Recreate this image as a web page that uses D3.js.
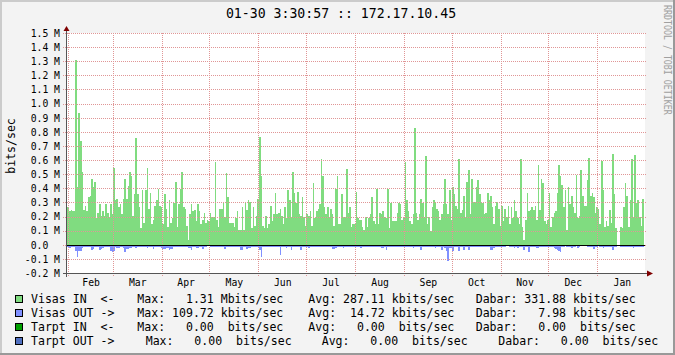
<!DOCTYPE html>
<html>
<head>
<meta charset="utf-8">
<script src="https://cdn.jsdelivr.net/npm/d3@7"></script>
<style>
  html, body { margin: 0; padding: 0; background: #f3f3f3; }
  svg { display: block; font-family: "DejaVu Sans Mono", monospace; }
  text { white-space: pre; }
</style>
</head>
<body>
<div id="chart"></div>
<script>
// one bar per day, first day = Jan 30
var firstDay = Date.UTC(2010, 0, 30);
var rangeStart = Date.UTC(2010, 0, 30, 3, 30, 57);
var rangeEnd = Date.UTC(2011, 0, 30, 3, 30, 57);

// Visas IN, Mbit/s
var visasIn = [
  0.25,0.27,0.24,0.25,0.24,0.24,1.31,0.41,0.94,0.74,
  0.52,0.25,0.28,0.24,0.34,0.35,0.47,0.41,0.45,0.19,
  0.23,0.29,0.21,0.24,0.21,0.29,0.23,0.20,0.29,0.22,
  0.55,0.32,0.33,0.27,0.29,0.22,0.33,0.47,0.33,0.42,
  0.52,0.49,0.21,0.36,0.76,0.36,0.27,0.12,0.39,0.16,
  0.39,0.55,0.26,0.37,0.15,0.18,0.28,0.32,0.40,0.28,
  0.27,0.15,0.36,0.26,0.13,0.32,0.16,0.19,0.30,0.45,
  0.13,0.29,0.40,0.52,0.27,0.26,0.14,0.04,0.22,0.29,
  0.24,0.25,0.17,0.29,0.24,0.15,0.18,0.23,0.16,0.18,
  0.17,0.23,0.20,0.20,0.59,0.18,0.13,0.26,0.26,0.30,
  0.20,0.51,0.34,0.16,0.16,0.16,0.13,0.19,0.24,0.11,
  0.11,0.27,0.11,0.30,0.25,0.32,0.31,0.12,0.27,0.14,
  0.21,
  0.33,0.77,0.49,0.14,0.12,0.21,0.12,0.15,0.28,0.17,
  0.22,0.37,0.22,0.23,0.26,0.21,0.15,0.27,0.19,0.39,
  0.32,0.20,0.52,0.37,0.30,0.38,0.22,0.21,0.34,0.20,
  0.14,0.22,0.21,0.24,0.14,0.44,0.19,0.24,0.26,0.29,
  0.61,0.49,0.27,0.22,0.27,0.20,0.26,0.22,0.14,0.40,
  0.49,0.15,0.15,0.36,0.19,0.20,0.54,0.23,0.27,0.13,
  0.15,
  0.15,0.38,0.19,0.18,0.18,0.13,0.11,0.20,0.13,0.19,
  0.22,0.34,0.17,0.15,0.40,0.15,0.23,0.22,0.24,0.20,
  0.19,0.40,0.12,0.30,0.17,0.17,0.17,0.23,0.30,0.29,
  0.18,0.19,0.59,0.32,0.24,0.17,0.15,0.22,0.83,0.23,
  0.18,0.22,0.33,0.30,0.20,0.63,0.15,0.20,0.10,0.27,
  0.32,0.30,0.26,0.24,0.18,0.22,0.29,0.47,0.29,0.22,
  0.39,
  0.18,0.41,0.36,0.28,0.26,0.61,0.23,0.25,0.35,0.20,
  0.45,0.53,0.22,0.47,0.31,0.31,0.41,0.46,0.36,0.30,
  0.30,0.22,0.23,0.37,0.32,0.35,0.27,0.15,0.28,0.31,
  0.26,0.14,0.28,0.17,0.26,0.20,0.28,0.15,0.27,0.19,
  0.32,0.24,0.19,0.15,0.61,0.13,0.04,0.18,0.37,0.24,
  0.25,0.27,0.25,0.28,0.18,0.57,0.25,0.47,0.44,0.17,
  0.15,
  0.18,0.37,0.13,0.20,0.23,0.24,0.37,0.57,0.49,0.43,
  0.27,0.39,0.11,0.41,0.29,0.35,0.27,0.23,0.50,0.19,
  0.21,0.53,0.35,0.28,0.28,0.46,0.62,0.35,0.37,0.34,
  0.23,0.27,0.26,0.15,0.60,0.39,0.13,0.17,0.14,0.25,
  0.16,0.65,0.36,0.12,null,null,0.13,0.12,0.27,0.44,
  0.35,0.13,0.32,0.61,0.20,0.64,0.30,0.32,0.20,0.14,
  0.33
];

// Visas OUT, kbit/s (drawn below zero)
var visasOutK = [
  10,10,20,12,10,10,40,85,40,40, 20,15,15,12,15,12,30,28,15,15,
  12,30,28,20,15,15,10,15,40,45, 40,10,20,20,15,12,20,50,25,25,
  20,20,10,12,20,15,12,10,10,10, 12,20,15,10,10,25,15,15,12,15,
  20,25,25,20,20,30,25,25,10,10, 15,15,15,15,15,10,10,20,20,30,
  15,15,20,20,10,10,25,10,10,5,  5,10,10,15,15,10,10,10,10,10,
  25,10,10,10,10,15,15,15,10,10, 35,30,15,15,25,20,20,10,10,10,
  10,
  10,30,80,10,10,15,10,10,10,10, 10,10,10,10,70,10,10,15,20,10,
  10,30,15,10,15,10,10,30,10,10, 10,10,20,10,15,10,10,10,10,15,
  10,10,15,10,10,10,10,25,25,20, 10,10,10,10,20,10,10,10,10,10,
  10,
  10,10,10,10,20,10,10,10,10,10, 15,10,10,10,15,10,10,20,20,15,
  30,15,15,15,10,10,10,10,10,10, 15,10,10,10,10,15,10,20,10,10,
  10,10,30,10,10,10,10,10,10,15, 15,20,15,15,10,30,15,20,40,110,
  20,
  20,40,10,10,10,40,15,15,30,15, 15,30,10,10,10,15,15,10,10,10,
  10,15,10,10,10,35,35,20,15,15, 10,15,15,10,10,5,5,10,10,10,
  20,10,20,10,15,15,30,15,15,50, 10,15,15,15,20,20,10,10,10,10,
  10,
  10,10,10,15,20,25,30,40,45,15, 10,5,15,15,15,20,10,15,5,20,
  10,5,5,5,5,10,10,10,10,25,     10,15,5,10,10,20,10,15,10,15,
  15,30,15,10,null,null,10,10,10,15, 15,10,10,15,20,15,10,10,10,10,
  10
];

var yTicks = [-0.2,-0.1,0.0,0.1,0.2,0.3,0.4,0.5,0.6,0.7,0.8,0.9,1.0,1.1,1.2,1.3,1.4,1.5];
var yTickLabels = ["-0.2 M","-0.1 M","0.0  ","0.1 M","0.2 M","0.3 M","0.4 M","0.5 M","0.6 M",
  "0.7 M","0.8 M","0.9 M","1.0 M","1.1 M","1.2 M","1.3 M","1.4 M","1.5 M"];
var monthNames = ["Feb","Mar","Apr","May","Jun","Jul","Aug","Sep","Oct","Nov","Dec","Jan"];

var legendNames = ["Visas IN  <-", "Visas OUT ->", "Tarpt IN  <-", "Tarpt OUT ->"];
var legendMax = ["  1.31 Mbits/sec", "109.72 kbits/sec", "  0.00  bits/sec", "  0.00  bits/sec"];
var legendAvg = ["287.11 kbits/sec", " 14.72 kbits/sec", "  0.00  bits/sec", "  0.00  bits/sec"];
var legendDabar = ["331.88 kbits/sec", "  7.98 kbits/sec", "  0.00  bits/sec", "  0.00  bits/sec"];

var title = "01-30 3:30:57 :: 172.17.10.45";

var colIn = "#80dc80", colOut = "#8090ff";
var legendColors = [colIn, colOut, "#00a000", "#5070c0"];
var gridColor = "#e09696";

var W = 675, H = 355;
var plot = { left: 67, right: 645, top: 33, bottom: 273 };

var svg = d3.select("#chart").append("svg")
  .attr("width", W).attr("height", H);

// background + 3d frame
svg.append("rect").attr("width", W).attr("height", H).attr("fill", "#f3f3f3");
svg.append("rect").attr("x", 0).attr("y", 0).attr("width", W).attr("height", 2).attr("fill", "#cbcbcb");
svg.append("rect").attr("x", 0).attr("y", 0).attr("width", 2).attr("height", H).attr("fill", "#cbcbcb");
svg.append("rect").attr("x", 0).attr("y", H - 2).attr("width", W).attr("height", 2).attr("fill", "#999");
svg.append("rect").attr("x", W - 2).attr("y", 0).attr("width", 2).attr("height", H).attr("fill", "#999");

// canvas
svg.append("rect")
  .attr("x", plot.left).attr("y", plot.top)
  .attr("width", plot.right - plot.left).attr("height", plot.bottom - plot.top)
  .attr("fill", "#fff");

var x = d3.scaleUtc().domain([new Date(rangeStart), new Date(rangeEnd)]).range([66, 644]);
var y = d3.scaleLinear().domain([-0.2, 1.5]).range([273.5, 33.5]);

svg.append("clipPath").attr("id", "clip")
  .append("rect")
  .attr("x", plot.left).attr("y", plot.top - 1)
  .attr("width", plot.right - plot.left).attr("height", plot.bottom - plot.top + 2);

var day = 864e5;
function dayX(i) { return x(new Date(firstDay + i * day)); }

var bars = svg.append("g").attr("clip-path", "url(#clip)").attr("shape-rendering", "crispEdges");

var y0 = y(0);
bars.selectAll(".in")
  .data(visasIn.map(function(v, i) { return { i: i, v: v }; }).filter(function(d) { return d.v != null; }))
  .enter().append("rect")
  .attr("x", function(d) { return dayX(d.i); })
  .attr("width", function(d) { return dayX(d.i + 1) - dayX(d.i); })
  .attr("y", function(d) { return y(d.v); })
  .attr("height", function(d) { return y0 - y(d.v); })
  .attr("fill", colIn);

bars.selectAll(".out")
  .data(visasOutK.map(function(v, i) { return { i: i, v: v }; }).filter(function(d) { return d.v != null; }))
  .enter().append("rect")
  .attr("x", function(d) { return dayX(d.i); })
  .attr("width", function(d) { return dayX(d.i + 1) - dayX(d.i); })
  .attr("y", y0)
  .attr("height", function(d) { return y(-d.v / 1000) - y0; })
  .attr("fill", colOut);

// grid
var grid = svg.append("g").attr("shape-rendering", "crispEdges");
grid.selectAll(".hg").data(yTicks).enter().append("line")
  .attr("x1", 63).attr("x2", 646)
  .attr("y1", function(d) { return Math.round(y(d) - 0.5) + 0.5; })
  .attr("y2", function(d) { return Math.round(y(d) - 0.5) + 0.5; })
  .attr("stroke", gridColor).attr("stroke-dasharray", "1,1");

var monthStarts = d3.utcMonth.range(new Date(rangeStart), new Date(rangeEnd));
grid.selectAll(".vg").data(monthStarts).enter().append("line")
  .attr("x1", function(d) { return Math.round(x(d) - 0.5) + 0.5; })
  .attr("x2", function(d) { return Math.round(x(d) - 0.5) + 0.5; })
  .attr("y1", 33).attr("y2", 277)
  .attr("stroke", gridColor).attr("stroke-dasharray", "1,1");

// zero line
svg.append("line")
  .attr("x1", plot.left).attr("x2", plot.right)
  .attr("y1", Math.round(y0 - 0.5) + 0.5).attr("y2", Math.round(y0 - 0.5) + 0.5)
  .attr("stroke", "#000").attr("shape-rendering", "crispEdges");

// axes
svg.append("line").attr("x1", 66.5).attr("x2", 66.5).attr("y1", 29).attr("y2", 277)
  .attr("stroke", "#555").attr("shape-rendering", "crispEdges");
svg.append("line").attr("x1", 63).attr("x2", 649).attr("y1", 273.5).attr("y2", 273.5)
  .attr("stroke", "#555").attr("shape-rendering", "crispEdges");
svg.append("path").attr("d", "M63.5,31L69.5,31L66.5,26Z").attr("fill", "#7f0000");
svg.append("path").attr("d", "M647,270.5L647,276.5L653,273.5Z").attr("fill", "#7f0000");

// y tick labels
svg.selectAll(".yl").data(yTicks).enter().append("text")
  .attr("x", 60).attr("y", function(d) { return y(d) + 3.3; })
  .attr("text-anchor", "end")
  .style("font-size", "9.75px")
  .text(function(d, i) { return yTickLabels[i]; });

// x tick labels, centred in each month
svg.selectAll(".xl").data(monthStarts).enter().append("text")
  .attr("x", function(d) { return (x(d) + x(d3.utcMonth.offset(d, 1))) / 2; })
  .attr("y", 285.5)
  .attr("text-anchor", "middle")
  .style("font-size", "9.75px")
  .text(function(d, i) { return monthNames[i]; });

// title
svg.append("text").attr("x", 341).attr("y", 17.7).attr("text-anchor", "middle")
  .style("font-size", "13.2px").text(title);

// vertical axis title
svg.append("text").attr("transform", "translate(14.5,146) rotate(-90)")
  .attr("text-anchor", "middle").style("font-size", "11.55px").text("bits/sec");

// watermark
svg.append("text").attr("transform", "translate(663.5,5) rotate(90) scale(1,1.3)")
  .attr("fill", "#a0a0a0").style("font-size", "8.3px").text("RRDTOOL / TOBI OETIKER");

// legend
var rowY = [303.3, 317.3, 331.3, 345];
var colX = [[137.3, 308.3, 475.7], [137.3, 308.3, 475.7], [137.3, 308.3, 475.7], [145.7, 321.7, 498.3]];
var leg = svg.append("g").style("font-size", "11.55px");
legendNames.forEach(function(name, i) {
  leg.append("rect").attr("x", 15.5).attr("y", rowY[i] - 7.8).attr("width", 7).attr("height", 7)
    .attr("fill", legendColors[i]).attr("stroke", "#000").attr("shape-rendering", "crispEdges");
  leg.append("text").attr("x", 31).attr("y", rowY[i]).text(name);
  leg.append("text").attr("x", colX[i][0]).attr("y", rowY[i]).text("Max: " + legendMax[i]);
  leg.append("text").attr("x", colX[i][1]).attr("y", rowY[i]).text("Avg: " + legendAvg[i]);
  leg.append("text").attr("x", colX[i][2]).attr("y", rowY[i]).text("Dabar: " + legendDabar[i]);
});
</script>
</body>
</html>
